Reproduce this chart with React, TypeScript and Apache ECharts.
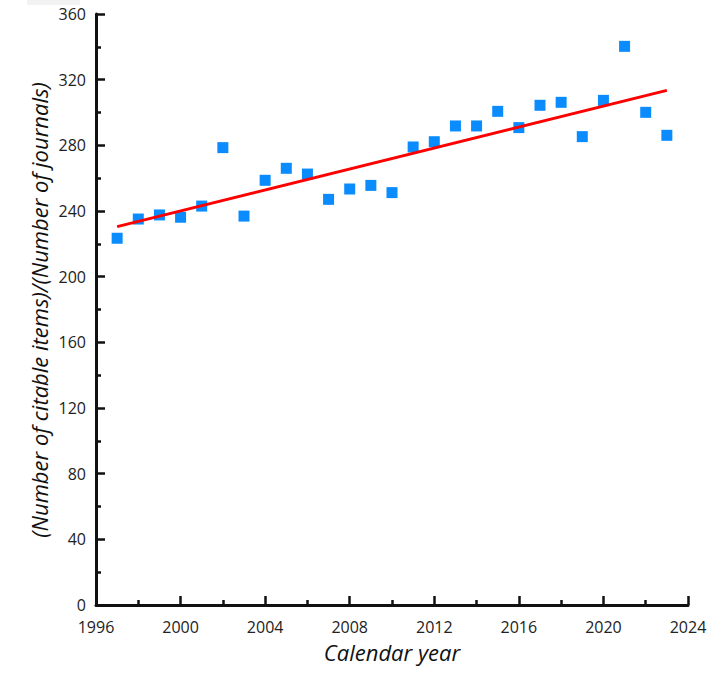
import React, { useEffect, useRef } from "react";
import * as echarts from "echarts";

const years = [1997, 1998, 1999, 2000, 2001, 2002, 2003, 2004, 2005, 2006, 2007, 2008, 2009, 2010, 2011, 2012, 2013, 2014, 2015, 2016, 2017, 2018, 2019, 2020, 2021, 2022, 2023];
const ratios = [223.4, 235.1, 237.6, 236.2, 243.0, 278.6, 236.9, 258.7, 266.0, 262.5, 247.1, 253.4, 255.6, 251.2, 279.0, 282.2, 291.8, 291.8, 300.7, 290.8, 304.4, 306.2, 285.3, 307.4, 340.3, 300.1, 286.1];
const trendYears = [1997, 2023];
const trendValues = [230.5, 313.5];

const xTitle = "Calendar year";
const yTitle = "(Number of citable items)/(Number of journals)";

export default function App() {
  const ref = useRef<HTMLDivElement>(null);
  useEffect(() => {
    if (!ref.current) return;
    const chart = echarts.init(ref.current, undefined, { renderer: "svg" });
    const font = "'Open Sans', 'Noto Sans', sans-serif";
    const axisColor = "#111";
    chart.setOption({
      animation: false,
      backgroundColor: "#fff",
      textStyle: { fontFamily: font },
      grid: { left: 96, top: 14, right: 36, bottom: 69, containLabel: false },
      xAxis: {
        type: "value",
        min: 1996,
        max: 2024,
        interval: 4,
        name: xTitle,
        nameLocation: "middle",
        nameGap: 36,
        nameTextStyle: { fontFamily: font, fontSize: 22, fontStyle: "italic", color: "#111" },
        axisLine: { show: true, onZero: false, lineStyle: { color: axisColor, width: 3 } },
        axisTick: { show: true, inside: true, length: 9, lineStyle: { color: axisColor, width: 2.5 } },
        minorTick: { show: true, splitNumber: 2, length: 5, lineStyle: { color: axisColor, width: 2.5 } },
        axisLabel: { fontFamily: font, fontSize: 16, color: "#222", margin: 14, formatter: (v: number) => String(v) },
        splitLine: { show: false },
      },
      yAxis: {
        type: "value",
        min: 0,
        max: 360,
        interval: 40,
        axisLine: { show: true, onZero: false, lineStyle: { color: axisColor, width: 3 } },
        axisTick: { show: true, inside: true, length: 9, lineStyle: { color: axisColor, width: 2.5 } },
        minorTick: { show: true, splitNumber: 2, length: 5, lineStyle: { color: axisColor, width: 2.5 } },
        axisLabel: { fontFamily: font, fontSize: 16, color: "#222", margin: 10 },
        splitLine: { show: false },
      },
      graphic: [
        { type: "rect", left: 27, top: 0, shape: { width: 53, height: 5 }, style: { fill: "#f2f2f2" }, silent: true },
        {
          type: "text",
          x: 39,
          y: 310,
          rotation: Math.PI / 2,
          style: {
            text: yTitle,
            fontFamily: font,
            fontSize: 22,
            fontStyle: "italic",
            fill: "#111",
            align: "center",
            verticalAlign: "middle",
          },
        },
      ],
      series: [
        {
          type: "line",
          data: trendYears.map((y, i) => [y, trendValues[i]]),
          showSymbol: false,
          symbol: "none",
          lineStyle: { color: "#ff0000", width: 3 },
          z: 3,
        },
        {
          type: "scatter",
          data: years.map((y, i) => [y, ratios[i]]),
          symbol: "rect",
          symbolSize: 11,
          itemStyle: { color: "#0a8cff", opacity: 1 },
          z: 2,
        },
      ],
    });
    return () => chart.dispose();
  }, []);
  return <div ref={ref} style={{ position: "fixed", left: 0, top: 0, width: 724, height: 674 }} />;
}
